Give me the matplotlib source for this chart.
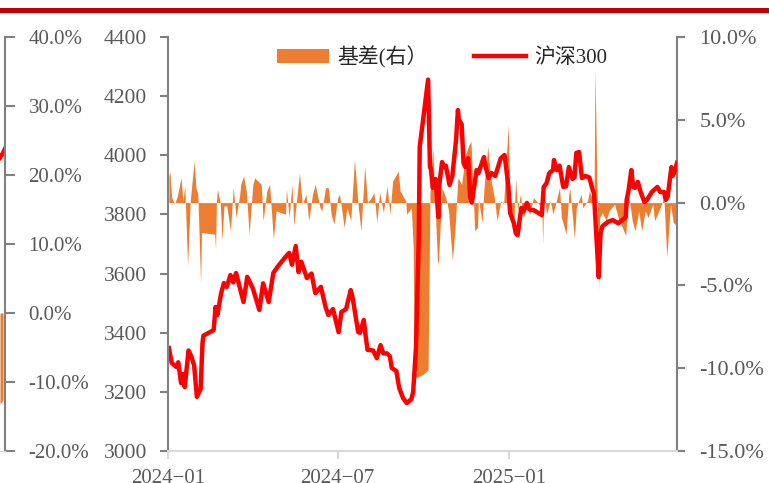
import numpy as np
import pandas as pd
import matplotlib
matplotlib.use('Agg')
import matplotlib.pyplot as plt
import matplotlib.dates as mdates
from matplotlib.lines import Line2D
from matplotlib.patches import Patch
from matplotlib.ticker import FuncFormatter

plt.rcParams['font.family'] = ['Liberation Serif', 'Noto Sans CJK SC']

# 沪深300 收盘
csi_dates = [
    '2024-01-02', '2024-01-05', '2024-01-10', '2024-01-12', '2024-01-15', '2024-01-17', '2024-01-19',
    '2024-01-23', '2024-01-26', '2024-01-29', '2024-02-01', '2024-02-05', '2024-02-07', '2024-02-08',
    '2024-02-19', '2024-02-21', '2024-02-23', '2024-02-27', '2024-03-01', '2024-03-04', '2024-03-08',
    '2024-03-11', '2024-03-14', '2024-03-19', '2024-03-22', '2024-03-26', '2024-04-01', '2024-04-08',
    '2024-04-12', '2024-04-18', '2024-04-23', '2024-04-28', '2024-05-06', '2024-05-10', '2024-05-13',
    '2024-05-17', '2024-05-20', '2024-05-23', '2024-05-29', '2024-06-03', '2024-06-07', '2024-06-13',
    '2024-06-18', '2024-06-21', '2024-06-26', '2024-07-02', '2024-07-05', '2024-07-10', '2024-07-15',
    '2024-07-17', '2024-07-23', '2024-07-25', '2024-07-29', '2024-07-31', '2024-08-02', '2024-08-08',
    '2024-08-12', '2024-08-16', '2024-08-19', '2024-08-23', '2024-08-26', '2024-08-28', '2024-09-02',
    '2024-09-05', '2024-09-09', '2024-09-13', '2024-09-18', '2024-09-20', '2024-09-23', '2024-09-25',
    '2024-09-26', '2024-09-27', '2024-10-06', '2024-10-08', '2024-10-09', '2024-10-11', '2024-10-14',
    '2024-10-17', '2024-10-18', '2024-10-21', '2024-10-23', '2024-10-25', '2024-10-29', '2024-11-01',
    '2024-11-05', '2024-11-07', '2024-11-08', '2024-11-11', '2024-11-13', '2024-11-15', '2024-11-18',
    '2024-11-20', '2024-11-22', '2024-11-27', '2024-11-29', '2024-12-03', '2024-12-05', '2024-12-06',
    '2024-12-10', '2024-12-13', '2024-12-17', '2024-12-23', '2024-12-27', '2024-12-31',
    '2025-01-02', '2025-01-06', '2025-01-08', '2025-01-10', '2025-01-14', '2025-01-16', '2025-01-20',
    '2025-01-22', '2025-01-24', '2025-01-27', '2025-02-05', '2025-02-07', '2025-02-10', '2025-02-13',
    '2025-02-17', '2025-02-18', '2025-02-21', '2025-02-24', '2025-02-28', '2025-03-03', '2025-03-06',
    '2025-03-10', '2025-03-12', '2025-03-14', '2025-03-17', '2025-03-20', '2025-03-24', '2025-03-28',
    '2025-03-31', '2025-04-02', '2025-04-03', '2025-04-07', '2025-04-09', '2025-04-11', '2025-04-17',
    '2025-04-22', '2025-04-28', '2025-05-06', '2025-05-07', '2025-05-09', '2025-05-12', '2025-05-14',
    '2025-05-16', '2025-05-19', '2025-05-22', '2025-05-26', '2025-05-29', '2025-06-03', '2025-06-09',
    '2025-06-12', '2025-06-16', '2025-06-18', '2025-06-20', '2025-06-24', '2025-06-25', '2025-06-27',
    '2025-06-30',
]
csi_vals = [
    3348, 3298, 3284, 3300, 3230, 3260, 3216,
    3340, 3320, 3290, 3183, 3210, 3365, 3390,
    3409, 3487, 3460, 3534, 3568, 3555, 3595,
    3570, 3602, 3540, 3504, 3589, 3550, 3477,
    3567, 3504, 3602, 3625, 3656, 3670, 3630,
    3693, 3605, 3640, 3585, 3600, 3534, 3555,
    3487, 3460, 3480, 3402, 3470, 3480, 3544,
    3520, 3402, 3400, 3443, 3390, 3342, 3340,
    3314, 3358, 3330, 3330, 3320, 3281, 3270,
    3213, 3180, 3162, 3175, 3200, 3350, 3600,
    3720, 4028, 4256, 3960, 3955, 3890, 3920,
    3791, 3900, 3977, 3960, 3965, 3900, 3930,
    4052, 4153, 4120, 4105, 3974, 3960, 3990,
    3859, 3840, 3950, 3940, 3977, 3994, 3970,
    3923, 3940, 3930, 3990, 4001, 3900,
    3805, 3770, 3737, 3730, 3822, 3810, 3839,
    3820, 3815, 3815, 3798, 3893, 3905, 3940,
    3950, 3984, 3950, 3965, 3893, 3895, 3960,
    3920, 3925, 4008, 4011, 3923, 3930, 3925,
    3889, 3870, 3810, 3588, 3737, 3760, 3775,
    3781, 3770, 3791, 3849, 3880, 3950, 3893,
    3890, 3910, 3876, 3842, 3850, 3876, 3893,
    3876, 3876, 3849, 3860, 3960, 3930, 3940,
    3974,
]

# 基差 (%, 右轴)
basis_dates = [
    '2024-01-02', '2024-01-03', '2024-01-05', '2024-01-08', '2024-01-11', '2024-01-15', '2024-01-17',
    '2024-01-19', '2024-01-22', '2024-01-25', '2024-01-29', '2024-01-31', '2024-02-02', '2024-02-05',
    '2024-02-06', '2024-02-19', '2024-02-20', '2024-02-21', '2024-02-22', '2024-02-23', '2024-02-26',
    '2024-02-28', '2024-03-01', '2024-03-04', '2024-03-08', '2024-03-11', '2024-03-14', '2024-03-18',
    '2024-03-19', '2024-03-22', '2024-03-25', '2024-03-28', '2024-04-01', '2024-04-03', '2024-04-10',
    '2024-04-12', '2024-04-16', '2024-04-19', '2024-04-23', '2024-04-26', '2024-05-06', '2024-05-07',
    '2024-05-10', '2024-05-13', '2024-05-15', '2024-05-21', '2024-05-24', '2024-05-28', '2024-05-31',
    '2024-06-04', '2024-06-07', '2024-06-12', '2024-06-14', '2024-06-18', '2024-06-21', '2024-06-24',
    '2024-06-27', '2024-07-01', '2024-07-03', '2024-07-08', '2024-07-11', '2024-07-15', '2024-07-19',
    '2024-07-23', '2024-07-26', '2024-07-30', '2024-08-02', '2024-08-06', '2024-08-09', '2024-08-12',
    '2024-08-15', '2024-08-19', '2024-08-23', '2024-08-26', '2024-08-29', '2024-09-04', '2024-09-06',
    '2024-09-12', '2024-09-13', '2024-09-18', '2024-09-20', '2024-09-21', '2024-09-30', '2024-10-06',
    '2024-10-08', '2024-10-10', '2024-10-11', '2024-10-16', '2024-10-17', '2024-10-21', '2024-10-25',
    '2024-10-28', '2024-11-01', '2024-11-04', '2024-11-07', '2024-11-11', '2024-11-15', '2024-11-19',
    '2024-11-21', '2024-11-25', '2024-11-28', '2024-11-29', '2024-12-03', '2024-12-05', '2024-12-09',
    '2024-12-12', '2024-12-16', '2024-12-19', '2024-12-23', '2024-12-26', '2024-12-31',
    '2025-01-02', '2025-01-06', '2025-01-08', '2025-01-10', '2025-01-13', '2025-01-16', '2025-01-20',
    '2025-01-23', '2025-01-27', '2025-02-05', '2025-02-06', '2025-02-07', '2025-02-10', '2025-02-14',
    '2025-02-17', '2025-02-24', '2025-02-26', '2025-03-03', '2025-03-06', '2025-03-07', '2025-03-12',
    '2025-03-14', '2025-03-19', '2025-03-21', '2025-03-26', '2025-03-28', '2025-04-02', '2025-04-03',
    '2025-04-07', '2025-04-08', '2025-04-11', '2025-04-15', '2025-04-18', '2025-04-24', '2025-04-28',
    '2025-05-06', '2025-05-07', '2025-05-09', '2025-05-13', '2025-05-16', '2025-05-20', '2025-05-23',
    '2025-05-27', '2025-05-30', '2025-06-04', '2025-06-06', '2025-06-12', '2025-06-16', '2025-06-19',
    '2025-06-23', '2025-06-26', '2025-06-30',
]
basis_vals = [
    1.6, 1.9, 0.3, -0.1, 0.4, 1.5, 0.1,
    1.0, -3.8, 0.2, 2.5, 0.9, 0.5, -4.9,
    -1.8, -1.9, -1.9, -2.8, 0.1, 0.8, 0.0,
    -2.3, -0.2, -0.2, -1.7, 0.9, -0.9, 0.5,
    1.1, 1.6, 0.7, -1.9, 1.1, 1.5, 1.1,
    -1.1, 0.7, 1.1, -2.2, -0.5, -0.7, 0.8,
    -0.9, 1.1, -1.4, 1.8, -0.1, 0.5, -1.1,
    0.5, 1.1, -0.3, -0.5, 0.9, 0.9, -0.7,
    -1.3, 0.3, 0.5, -1.5, -0.3, -1.1, 2.6,
    -0.2, -1.7, 2.2, 0.0, 0.3, 0.6, -1.2,
    0.6, -0.6, 1.0, -0.7, 1.3, 1.9, 0.7,
    0.1, -0.7, -0.3, -2.7, -10.6, -10.4, -10.1,
    0.5, 2.5, 3.3, -3.5, -3.7, 0.9, 0.3,
    -0.5, -3.5, -1.5, 1.5, 1.1, 2.9, 3.5,
    3.7, -1.7, -1.5, 0.2, -1.2, 0.9, 3.4,
    1.5, 0.3, -1.1, 0.1, -0.1, 4.7,
    -0.5, -1.1, 1.4, -0.5, 0.5, -0.9, -0.3,
    -0.7, 0.3, -0.3, -2.5, 0.9, -0.7, 0.1,
    -0.7, 0.9, -0.9, -1.9, 0.5, 0.9, -2.2,
    -0.3, 0.5, -0.3, 0.1, 0.7, -0.1, 8.1,
    -5.3, -0.9, -0.6, -1.1, -0.5, -0.1, -0.9,
    -2.0, -1.1, 0.5, -1.1, -1.7, -0.5, -1.7,
    -0.5, -0.9, -0.1, -1.1, -0.3, 0.3, -3.3,
    -0.1, -1.2, -1.4,
]

# 左侧截图残留的上一张图 (右轴 %)
prev_x = [0.5, 0.8, 1.0]
prev_line = [22.5, 23.2, 23.8]
prev_bar = [-13.2, -12.6, 0.0]

xticks = ['2024-01-01', '2024-07-01', '2025-01-01']

orange = '#ED7D31'
red = '#FF0000'
gray = '#808080'
lab = '#595959'

W, H = 769, 483
fig = plt.figure(figsize=(W / 100, H / 100), dpi=100)

# top banner line
fig.add_artist(Line2D([0, 1], [1 - 10 / H] * 2, color='#C00000', lw=3.6,
                      transform=fig.transFigure))

# previous chart fragment
ax0 = fig.add_axes([-5 / W, 1 - 451 / H, 10 / W, (451 - 37) / H])
ax0.set_xlim(0, 1)
ax0.set_ylim(-20, 40)
ax0.fill_between(prev_x[:2], prev_bar[:2], 0, color=orange, lw=0)
ax0.plot(prev_x, prev_line, color=red, lw=3.2)
ax0.yaxis.tick_right()
ax0.set_yticks(np.arange(-20, 41, 10))
ax0.yaxis.set_major_formatter(FuncFormatter(lambda v, p: '%.1f%%' % v))
ax0.tick_params(axis='y', length=7, width=1.5, color=gray, labelsize=15,
                labelcolor=lab, pad=10)
ax0.set_xticks([])
for s in ['left', 'top']:
    ax0.spines[s].set_visible(False)
ax0.spines['right'].set_color(gray)
ax0.spines['right'].set_linewidth(1.5)
ax0.spines['bottom'].set_color('#d9d9d9')
ax0.patch.set_visible(False)

# main chart
ax = fig.add_axes([168 / W, 1 - 451 / H, (677 - 168) / W, (451 - 37) / H])
ax2 = ax.twinx()

bd = pd.to_datetime(basis_dates)
cd = pd.to_datetime(csi_dates)
ax2.fill_between(bd, basis_vals, 0, color=orange, lw=0)
ax.plot(cd, csi_vals, color=red, lw=3.2, solid_joinstyle='round')

ax.set_zorder(ax2.get_zorder() + 1)
ax.patch.set_visible(False)

ax.set_xlim(pd.Timestamp('2024-01-01'), pd.Timestamp('2025-06-30'))
ax.set_ylim(3000, 4400)
ax.set_yticks(np.arange(3000, 4401, 200))
ax2.set_ylim(-15, 10)
ax2.set_yticks(np.arange(-15, 11, 5))
ax2.yaxis.set_major_formatter(FuncFormatter(lambda v, p: '%.1f%%' % v))

ax.set_xticks(pd.to_datetime(xticks))
ax.xaxis.set_major_formatter(mdates.DateFormatter('%Y\u2212%m'))

ax.tick_params(axis='y', length=6, width=1.5, color=gray, labelsize=15.5,
               labelcolor=lab, pad=9)
ax.tick_params(axis='x', length=6, width=1.5, color='#d9d9d9', labelsize=15,
               labelcolor=lab, pad=7)
ax2.tick_params(axis='y', length=6, width=1.5, color=gray, labelsize=16,
                labelcolor=lab, pad=10)

ax.spines['top'].set_visible(False)
ax.spines['right'].set_visible(False)
ax.spines['left'].set_color(gray)
ax.spines['left'].set_linewidth(1.5)
ax.spines['bottom'].set_color('#d9d9d9')
ax.spines['bottom'].set_linewidth(1.5)
for s in ['top', 'left', 'bottom']:
    ax2.spines[s].set_visible(False)
ax2.spines['right'].set_color(gray)
ax2.spines['right'].set_linewidth(1.5)

handles = [Patch(facecolor=orange, edgecolor='none', label='基差(右）'),
           Line2D([], [], color=red, lw=3.2, label='沪深300')]
fig.legend(handles=handles, loc='center', bbox_to_anchor=(442 / W, 1 - 57 / H),
           ncol=2, frameon=False, fontsize=15, handlelength=2.5, handleheight=0.7,
           handletextpad=0.4, columnspacing=2.2, labelcolor='#262626')

fig.savefig('out.png', dpi=100)
